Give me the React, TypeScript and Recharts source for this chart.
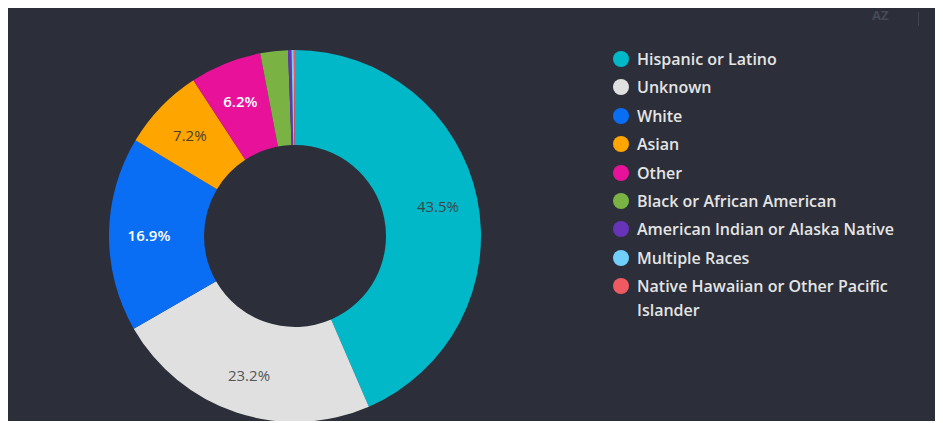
import { PieChart, Pie, Cell, Legend } from "recharts"

const groups = [
  "Hispanic or Latino",
  "Unknown",
  "White",
  "Asian",
  "Other",
  "Black or African American",
  "American Indian or Alaska Native",
  "Multiple Races",
  "Native Hawaiian or Other Pacific Islander",
]
const shares = [43.5, 23.2, 16.9, 7.2, 6.2, 2.4, 0.3, 0.2, 0.1]
const colors = ["#01b8c9", "#e0e0e0", "#0a6ef5", "#ffa500", "#e8119a", "#7ab344", "#6633b9", "#70d0fa", "#ef5a60"]
const labelColors = ["#3e4448", "#555555", "#ffffff", "#4a4030", "#ffffff", "#ffffff", "#ffffff", "#ffffff", "#ffffff"]

const data = groups.map((name, i) => ({ name, value: shares[i] }))

const RAD = Math.PI / 180

function renderLabel(props: any) {
  const { cx, cy, midAngle, index, value } = props
  if (value < 5) return null
  const r = 146
  const x = cx + r * Math.cos(-midAngle * RAD)
  const y = cy + r * Math.sin(-midAngle * RAD)
  const light = labelColors[index] === "#ffffff"
  return (
    <text
      x={x}
      y={y}
      fill={labelColors[index]}
      textAnchor="middle"
      dominantBaseline="central"
      fontSize={15}
      fontWeight={light ? 600 : 400}
      fontFamily="'Open Sans', sans-serif"
    >
      {`${value.toFixed(1)}%`}
    </text>
  )
}

function renderLegend() {
  return (
    <ul style={{ listStyle: "none", margin: 0, padding: 0 }}>
      {groups.map((name, i) => (
        <li key={name} style={{ display: "flex", alignItems: "flex-start", marginBottom: 4.4 }}>
          <span
            style={{
              width: 16,
              height: 16,
              borderRadius: "50%",
              background: colors[i],
              flex: "0 0 16px",
              marginTop: 4,
              marginRight: 8,
            }}
          />
          <span
            style={{
              color: "#e4e4e4",
              fontSize: 16,
              fontWeight: 600,
              lineHeight: "24px",
              fontFamily: "'Open Sans', sans-serif",
              maxWidth: 275,
            }}
          >
            {name}
          </span>
        </li>
      ))}
    </ul>
  )
}

export default function App() {
  return (
    <div style={{ margin: "-2px 0 0 -1px", width: 931, height: 415, background: "#2c2f39", position: "relative" }}>
      <div
        style={{
          position: "absolute",
          left: 865,
          top: 0,
          color: "#454a55",
          fontSize: 13,
          fontWeight: 700,
          fontFamily: "'Open Sans', sans-serif",
        }}
      >
        AZ
      </div>
      <div style={{ position: "absolute", left: 911, top: 6, width: 1, height: 14, background: "#40444e" }} />
      <PieChart width={931} height={415} margin={{ top: 0, right: 0, bottom: 0, left: 0 }}>
        <Pie
          data={data}
          dataKey="value"
          nameKey="name"
          cx={288}
          cy={230}
          innerRadius={91}
          outerRadius={186}
          startAngle={90}
          endAngle={-270}
          stroke="none"
          label={renderLabel}
          labelLine={false}
          isAnimationActive={false}
        >
          {data.map((d, i) => (
            <Cell key={d.name} fill={colors[i]} />
          ))}
        </Pie>
        <Legend
          layout="vertical"
          align="right"
          verticalAlign="top"
          content={renderLegend}
          wrapperStyle={{ left: 606, top: 41, width: 320 }}
        />
      </PieChart>
    </div>
  )
}
